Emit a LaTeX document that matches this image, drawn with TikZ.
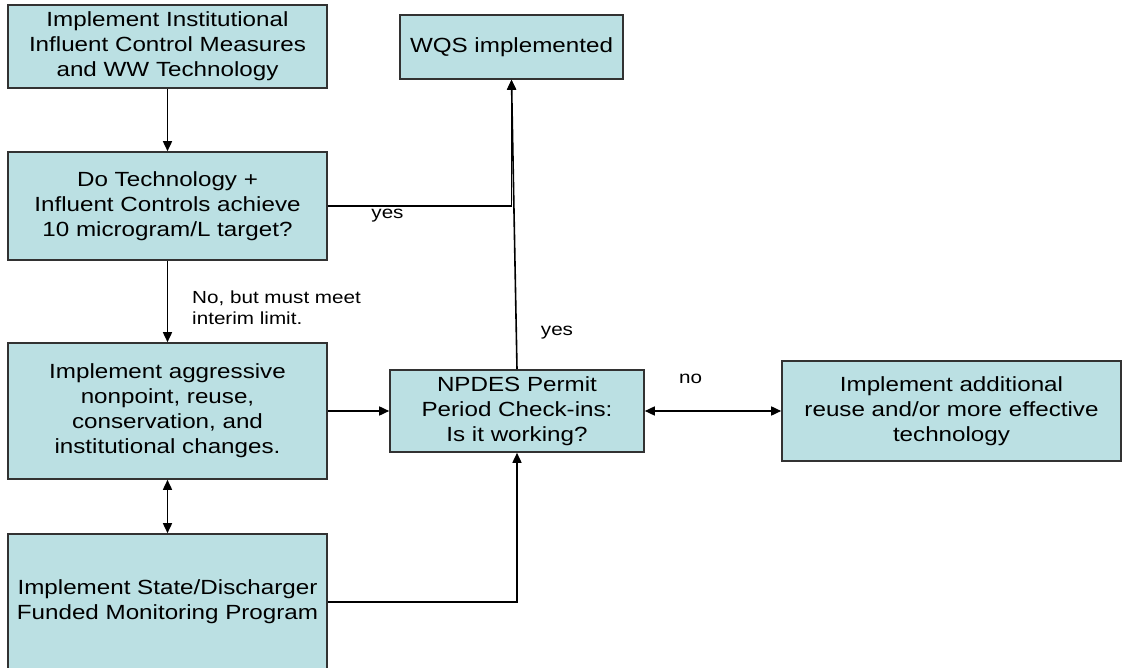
\documentclass[tikz,border=0pt]{standalone}
\usepackage{fontspec}
\setmainfont{Liberation Sans}[FakeStretch=1.18]
\usetikzlibrary{arrows.meta}
\definecolor{boxfill}{RGB}{187,224,227}
\definecolor{boxline}{RGB}{50,50,50}
\tikzset{
  box/.style={draw=boxline, line width=1.6pt, fill=boxfill, rectangle, inner sep=0pt, align=center,
    font=\fontsize{20.5}{25}\selectfont},
  lbl/.style={inner sep=0pt, font=\fontsize{17.5}{21}\selectfont},
  conn/.style={line width=1.6pt, draw=black},
  tip/.style={-{Triangle[length=10pt,width=9pt]}},
  tips/.style={{Triangle[length=10pt,width=9pt]}-{Triangle[length=10pt,width=9pt]}}
}
\begin{document}
\begin{tikzpicture}[x=1pt,y=-1pt]
\useasboundingbox (0,0) rectangle (1122,668);
\clip (0,0) rectangle (1122,668);
\node[box, minimum width=319pt, minimum height=83pt] (b1) at (167.5,46.5)
  {Implement Institutional\\Influent Control Measures\\and WW Technology};
\node[box, minimum width=319pt, minimum height=108pt] (b2) at (167.5,206)
  {Do Technology +\\Influent Controls achieve\\10 microgram/L target?};
\node[box, minimum width=223pt, minimum height=64pt] (wqs) at (511.5,47)
  {WQS implemented};
\node[box, minimum width=319pt, minimum height=136pt] (b3) at (167.5,411)
  {Implement aggressive\\nonpoint, reuse,\\conservation, and\\institutional changes.};
\node[box, minimum width=319pt, minimum height=136pt] (b4) at (167.5,602)
  {Implement State/Discharger\\Funded Monitoring Program};
\node[box, minimum width=254pt, minimum height=82pt] (np) at (517,411)
  {NPDES Permit\\Period Check-ins:\\Is it working?};
\node[box, minimum width=339pt, minimum height=100pt] (rb) at (951.5,411)
  {Implement additional\\reuse and/or more effective\\technology};

\node[lbl] (yes1) at (387.5,216) {yes};
\node[lbl, anchor=west, align=left] (nolbl) at (192,307.5) {No, but must meet\\interim limit.};
\node[lbl] (yes2) at (557,333) {yes};
\node[lbl] (no1) at (690.5,379) {no};

\draw[conn,tip] (b1.south) -- (b2.north);
\draw[conn,tip] (b2.east) -- (b2.east -| wqs.south) -- (wqs.south);
\draw[conn,tip] (b2.south) -- (b3.north);
\draw[conn,tips] (b3.south) -- (b4.north);
\draw[conn,tip] (b3.east) -- (np.west);
\draw[conn,tip] (b4.east) -- (b4.east -| np.south) -- (np.south);
\draw[conn,tip] (np.north) -- (wqs.south);
\draw[conn,tips] (np.east) -- (rb.west);
\end{tikzpicture}
\end{document}
